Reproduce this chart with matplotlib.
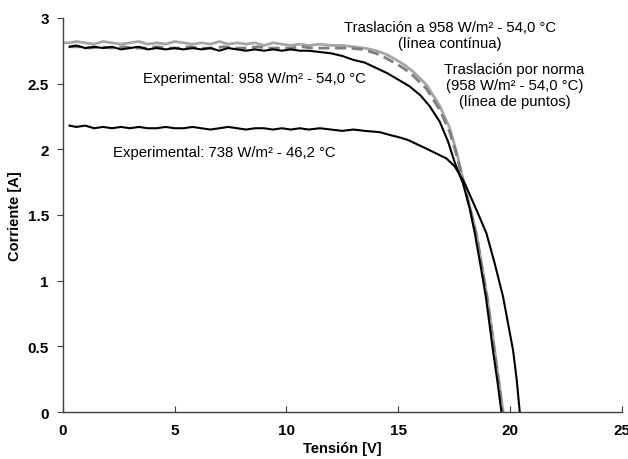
import matplotlib
matplotlib.use("Agg")
import matplotlib.pyplot as plt

plt.rcParams['font.family'] = ['Liberation Sans', 'DejaVu Sans']

# Experimental 958 W/m2 - 54,0 C
v_exp958 = [0.3, 0.6, 1.0, 1.4, 1.8, 2.2, 2.6, 3.0, 3.4, 3.8, 4.2, 4.6, 5.0, 5.4, 5.8,
            6.2, 6.6, 7.0, 7.4, 7.8, 8.2, 8.6, 9.0, 9.4, 9.8, 10.2, 10.6, 11.0, 11.5,
            12.0, 12.5, 13.0, 13.5, 14.0, 14.5, 15.0, 15.5, 16.0, 16.4, 16.86, 17.23,
            17.53, 17.9, 18.2, 18.43, 18.7, 18.92, 19.24, 19.45, 19.62]
i_exp958 = [2.78, 2.79, 2.77, 2.78, 2.77, 2.78, 2.76, 2.77, 2.78, 2.76, 2.77, 2.76, 2.77,
            2.76, 2.77, 2.76, 2.77, 2.75, 2.77, 2.76, 2.75, 2.76, 2.75, 2.76, 2.75, 2.76,
            2.75, 2.75, 2.74, 2.73, 2.71, 2.68, 2.66, 2.62, 2.58, 2.53, 2.48, 2.41, 2.33,
            2.21, 2.06, 1.90, 1.74, 1.55, 1.36, 1.10, 0.88, 0.47, 0.22, 0.0]

# Traslacion a 958 W/m2 - 54,0 C (linea continua)
v_tras = [0.0, 0.3, 0.6, 1.0, 1.4, 1.8, 2.2, 2.6, 3.0, 3.4, 3.8, 4.2, 4.6, 5.0, 5.4, 5.8,
          6.2, 6.6, 7.0, 7.4, 7.8, 8.2, 8.6, 9.0, 9.4, 9.8, 10.2, 10.6, 11.0, 11.5, 12.0,
          12.5, 13.0, 13.5, 14.03, 14.5, 14.92, 15.3, 15.67, 16.27, 16.86, 17.31, 17.61,
          17.95, 18.5, 18.98, 19.32, 19.5, 19.7]
i_tras = [2.81, 2.81, 2.82, 2.81, 2.80, 2.82, 2.81, 2.80, 2.81, 2.82, 2.80, 2.81, 2.80,
          2.82, 2.81, 2.80, 2.81, 2.80, 2.82, 2.80, 2.81, 2.80, 2.81, 2.79, 2.81, 2.80,
          2.79, 2.80, 2.79, 2.80, 2.79, 2.79, 2.78, 2.77, 2.75, 2.72, 2.68, 2.64, 2.59,
          2.49, 2.33, 2.16, 1.98, 1.74, 1.36, 0.88, 0.47, 0.24, 0.0]

# Traslacion por norma (linea de puntos)
v_norma = [0.3, 0.7, 1.2, 1.7, 2.2, 2.7, 3.2, 3.7, 4.2, 4.7, 5.2, 5.7, 6.2, 6.7, 7.2,
           7.7, 8.2, 8.7, 9.2, 9.7, 10.2, 10.7, 11.2, 11.7, 12.2, 12.8, 13.4, 14.0,
           14.5, 14.92, 15.3, 15.67, 16.27, 16.86, 17.31, 17.61, 17.95, 18.5, 18.98,
           19.3, 19.5, 19.66]
i_norma = [2.78, 2.78, 2.77, 2.78, 2.77, 2.78, 2.77, 2.77, 2.78, 2.77, 2.77, 2.78, 2.77,
           2.77, 2.78, 2.77, 2.77, 2.78, 2.77, 2.77, 2.77, 2.78, 2.77, 2.77, 2.77, 2.77,
           2.76, 2.73, 2.69, 2.65, 2.61, 2.56, 2.46, 2.30, 2.13, 1.96, 1.73, 1.35, 0.87,
           0.47, 0.23, 0.0]

# Experimental 738 W/m2 - 46,2 C
v_exp738 = [0.3, 0.6, 1.0, 1.4, 1.8, 2.2, 2.6, 3.0, 3.4, 3.8, 4.2, 4.6, 5.0, 5.4, 5.8,
            6.2, 6.6, 7.0, 7.4, 7.8, 8.2, 8.6, 9.0, 9.4, 9.8, 10.2, 10.6, 11.0, 11.5,
            12.0, 12.5, 13.0, 13.5, 14.18, 14.6, 15.07, 15.45, 15.82, 16.2, 16.56, 17.16,
            17.53, 17.98, 18.5, 18.95, 19.32, 19.69, 20.14, 20.3, 20.44]
i_exp738 = [2.18, 2.17, 2.18, 2.16, 2.17, 2.16, 2.17, 2.16, 2.17, 2.16, 2.16, 2.17, 2.16,
            2.16, 2.17, 2.16, 2.15, 2.16, 2.17, 2.16, 2.15, 2.16, 2.16, 2.15, 2.16, 2.15,
            2.16, 2.15, 2.16, 2.15, 2.14, 2.15, 2.14, 2.13, 2.11, 2.09, 2.07, 2.04, 2.01,
            1.98, 1.93, 1.87, 1.74, 1.54, 1.36, 1.13, 0.88, 0.47, 0.25, 0.0]

fig = plt.figure(figsize=(6.28, 4.6), dpi=100)
ax = fig.add_axes([0.100, 0.102, 0.890, 0.857])

ax.plot(v_tras, i_tras, color='#a6a6a6', lw=2.0)
ax.plot(v_norma, i_norma, color='#7f7f7f', lw=2.0, dashes=(4, 2))
ax.plot(v_exp958, i_exp958, color='black', lw=1.5)
ax.plot(v_exp738, i_exp738, color='black', lw=1.5)

ax.set_xlim(0, 25)
ax.set_ylim(0, 3)
ax.set_xticks([0, 5, 10, 15, 20, 25])
ax.set_yticks([0, 0.5, 1, 1.5, 2, 2.5, 3])
ax.set_yticklabels(['0', '0.5', '1', '1.5', '2', '2.5', '3'])
for s in ['top', 'right']:
    ax.spines[s].set_visible(False)
for s in ['left', 'bottom']:
    ax.spines[s].set_color('#404040')
    ax.spines[s].set_linewidth(1.0)
ax.tick_params(axis='x', direction='in', length=4, color='#404040', pad=8)
ax.tick_params(axis='y', direction='out', length=4, color='#404040', pad=6)
for lab in ax.get_xticklabels() + ax.get_yticklabels():
    lab.set_fontweight('bold')
    lab.set_fontsize(11)

ax.set_xlabel('Tensión [V]', fontsize=10.5, fontweight='bold', labelpad=3)
ax.set_ylabel('Corriente [A]', fontsize=10.5, fontweight='bold', labelpad=4)

fs = 10.7
ax.text(3.59, 2.54, 'Experimental: 958 W/m² - 54,0 °C', fontsize=fs, va='center', ha='left')
ax.text(2.25, 1.98, 'Experimental: 738 W/m² - 46,2 °C', fontsize=fs, va='center', ha='left')
ax.text(17.3, 2.87, 'Traslación a 958 W/m² - 54,0 °C\n(línea contínua)', fontsize=fs,
        va='center', ha='center', linespacing=1.15)
ax.text(20.2, 2.49, 'Traslación por norma\n(958 W/m² - 54,0 °C)\n(línea de puntos)', fontsize=fs,
        va='center', ha='center', linespacing=1.15)

fig.savefig('out.png', dpi=100)
